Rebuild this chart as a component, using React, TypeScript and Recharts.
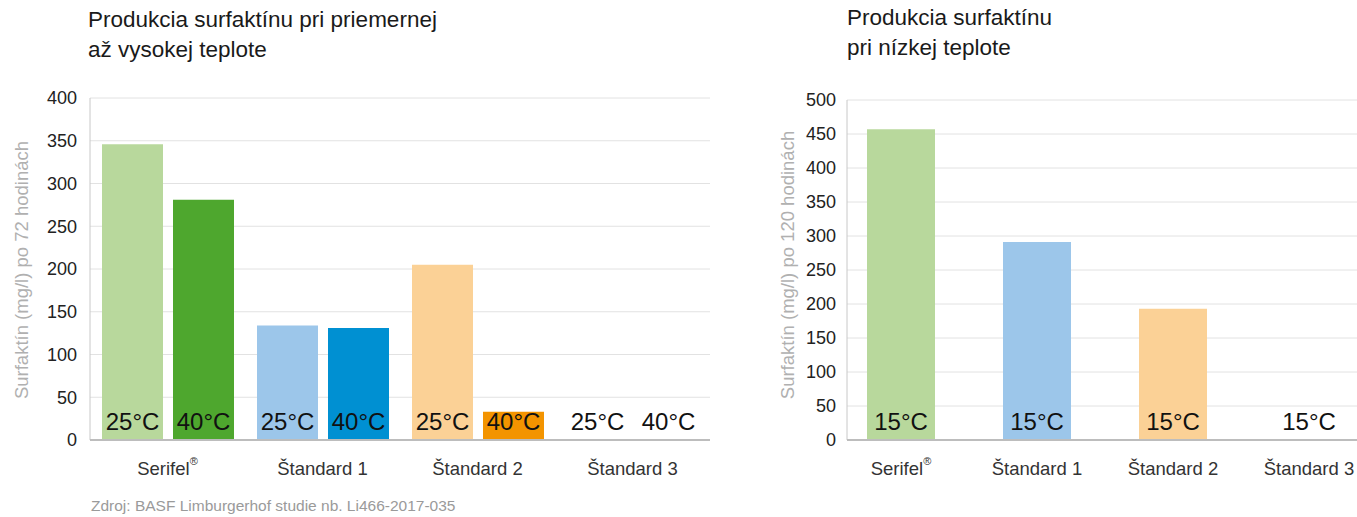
import React from "react";
import { BarChart, Bar, XAxis, YAxis, CartesianGrid, LabelList, Cell } from "recharts";

const categories = ["Serifel®", "Štandard 1", "Štandard 2", "Štandard 3"];

const warmTemps = ["25°C", "40°C"];
const warm25 = [346, 134, 205, 0];
const warm40 = [281, 131, 33, 0];
const warmTicks = [0, 50, 100, 150, 200, 250, 300, 350, 400];

const coldTemps = ["15°C"];
const cold15 = [457, 291, 193, 0];
const coldTicks = [0, 50, 100, 150, 200, 250, 300, 350, 400, 450, 500];

const light = ["#b8d89c", "#9cc6ea", "#fbd196", "transparent"];
const dark = ["#4ea72e", "#0090d2", "#f39400", "transparent"];

const FONT = "'Liberation Sans', Arial, sans-serif";

const warmData = categories.map((name, i) => ({ name, t25: warm25[i], t40: warm40[i] }));
const coldData = categories.map((name, i) => ({ name, t15: cold15[i] }));

function CategoryTick(props: any) {
  const { x, y, payload } = props;
  const v: string = payload.value;
  const hasReg = v.endsWith("®");
  const base = hasReg ? v.slice(0, -1) : v;
  return (
    <text x={x} y={y} dy="0.71em" textAnchor="middle" fontSize={18.5} fill="#333" fontFamily={FONT}>
      {base}
      {hasReg && (
        <tspan fontSize={11} dy="-0.9em">
          ®
        </tspan>
      )}
    </text>
  );
}

const tempLabel = (text: string) => (props: any) => {
  const { x, y, width, height } = props;
  return (
    <text
      x={x + width / 2}
      y={y + height - 10}
      textAnchor="middle"
      fontSize={24}
      fill="#111"
      fontFamily={FONT}
    >
      {text}
    </text>
  );
};

const rotated = (left: number, top: number): React.CSSProperties => ({
  position: "absolute",
  left,
  top,
  transform: "translate(-50%, -50%) rotate(-90deg)",
  whiteSpace: "nowrap",
  fontSize: 18.5,
  color: "#b0b0b0",
  fontFamily: FONT,
});

const titleStyle = (left: number, top: number): React.CSSProperties => ({
  position: "absolute",
  left,
  top,
  fontSize: 22.5,
  lineHeight: "30px",
  color: "#1a1a1a",
  fontFamily: FONT,
});

export default function App() {
  return (
    <div
      style={{
        position: "absolute",
        left: 0,
        top: 0,
        width: 1357,
        height: 517,
        overflow: "hidden",
        background: "#fff",
        fontFamily: FONT,
      }}
    >
      <div style={titleStyle(88, 5)}>
        Produkcia surfaktínu pri priemernej
        <br />
        až vysokej teplote
      </div>
      <div style={titleStyle(847, 3)}>
        Produkcia surfaktínu
        <br />
        pri nízkej teplote
      </div>

      <div style={{ position: "absolute", left: 0, top: 0 }}>
        <BarChart
          width={720}
          height={517}
          data={warmData}
          margin={{ top: 98, right: 10, bottom: 37, left: 30 }}
          barSize={61}
          barGap={10}
        >
          <CartesianGrid vertical={false} stroke="#e2e2e2" />
          <YAxis
            width={60}
            domain={[0, 400]}
            ticks={warmTicks}
            interval={0}
            tickLine={false}
            tickSize={0}
            tickMargin={13}
            axisLine={{ stroke: "#c8c8c8" }}
            tick={{ fontSize: 18, fill: "#222", fontFamily: FONT }}
          />
          <Bar dataKey="t25" isAnimationActive={false} fill={light[0]} minPointSize={1}>
            {warmData.map((_, i) => (
              <Cell key={i} fill={light[i]} />
            ))}
            <LabelList dataKey="t25" content={tempLabel(warmTemps[0])} />
          </Bar>
          <Bar dataKey="t40" isAnimationActive={false} fill={dark[0]} minPointSize={1}>
            {warmData.map((_, i) => (
              <Cell key={i} fill={dark[i]} />
            ))}
            <LabelList dataKey="t40" content={tempLabel(warmTemps[1])} />
          </Bar>
          <XAxis
            dataKey="name"
            height={40}
            tick={<CategoryTick />}
            tickLine={false}
            tickSize={0}
            tickMargin={22}
            axisLine={{ stroke: "#bdbdbd", strokeWidth: 2 }}
            interval={0}
          />
        </BarChart>
      </div>
      <div style={rotated(22, 270)}>Surfaktín (mg/l) po 72 hodinách</div>

      <div style={{ position: "absolute", left: 760, top: 0 }}>
        <BarChart
          width={597}
          height={517}
          data={coldData}
          margin={{ top: 100, right: 0, bottom: 37, left: 27 }}
          barSize={68}
        >
          <CartesianGrid vertical={false} stroke="#e2e2e2" />
          <YAxis
            width={60}
            domain={[0, 500]}
            ticks={coldTicks}
            interval={0}
            tickLine={false}
            tickSize={0}
            tickMargin={11}
            axisLine={{ stroke: "#c8c8c8" }}
            tick={{ fontSize: 18, fill: "#222", fontFamily: FONT }}
          />
          <Bar dataKey="t15" isAnimationActive={false} fill={light[0]} minPointSize={1}>
            {coldData.map((_, i) => (
              <Cell key={i} fill={light[i]} />
            ))}
            <LabelList dataKey="t15" content={tempLabel(coldTemps[0])} />
          </Bar>
          <XAxis
            dataKey="name"
            height={40}
            tick={<CategoryTick />}
            tickLine={false}
            tickSize={0}
            tickMargin={22}
            axisLine={{ stroke: "#bdbdbd", strokeWidth: 2 }}
            interval={0}
            padding={{ left: -14, right: -20 }}
          />
        </BarChart>
      </div>
      <div style={rotated(788, 265)}>Surfaktín (mg/l) po 120 hodinách</div>

      <div
        style={{
          position: "absolute",
          left: 91,
          top: 497,
          fontSize: 15.5,
          color: "#9a9a9a",
          fontFamily: FONT,
        }}
      >
        Zdroj: BASF Limburgerhof studie nb. Li466-2017-035
      </div>
    </div>
  );
}
